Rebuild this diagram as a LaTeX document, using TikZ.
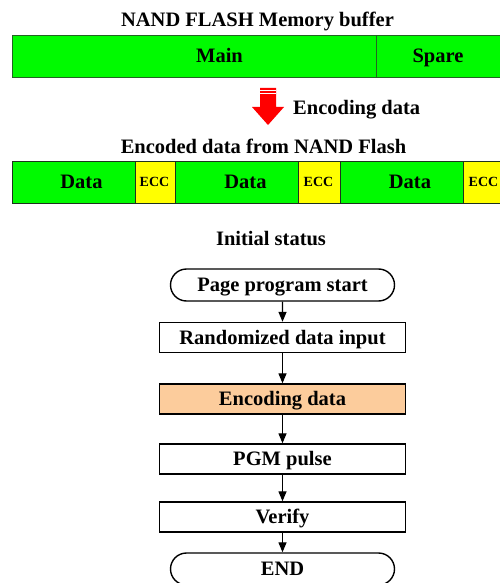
\documentclass[tikz,border=0pt]{standalone}
\usepackage{fontspec}
\setmainfont{Liberation Serif}
\usetikzlibrary{shapes.misc,arrows.meta}
\definecolor{bargreen}{RGB}{0,250,0}
\definecolor{bardark}{RGB}{35,100,35}
\definecolor{rowdark}{RGB}{30,50,30}
\definecolor{eccyellow}{RGB}{255,255,0}
\definecolor{peach}{RGB}{252,204,156}
\definecolor{arrowred}{RGB}{255,0,0}
\begin{document}
\begin{tikzpicture}[x=1pt,y=-1pt,
  lbl/.style={font=\fontsize{20.5}{24}\selectfont\bfseries, inner sep=0pt, anchor=base},
  ecclbl/.style={font=\fontsize{14}{16}\selectfont\bfseries, inner sep=0pt, anchor=base},
  topseg/.style={draw=bardark, line width=1.2pt, fill=bargreen, minimum height=42pt, inner sep=0pt, anchor=north west},
  dataseg/.style={draw=rowdark, line width=1.2pt, fill=bargreen, minimum height=42pt, inner sep=0pt, anchor=north west},
  eccseg/.style={draw=rowdark, line width=1.2pt, fill=eccyellow, minimum height=42pt, inner sep=0pt, anchor=north west},
  flowtxt/.style={font=\fontsize{20.5}{24}\selectfont\bfseries, text height=13.6pt, text depth=0pt, inner sep=0pt},
  procbox/.style={flowtxt, draw=black, line width=1.4pt, fill=white, rectangle, minimum width=246pt, minimum height=30pt},
  termbox/.style={flowtxt, draw=black, line width=1.4pt, fill=white, rounded rectangle, minimum width=224pt, minimum height=32pt},
  flow/.style={draw=black, line width=1.3pt, -{Triangle[length=10pt,width=8pt]}}
]
\useasboundingbox (0,0) rectangle (499,583);

% Title
\node[lbl] (title1) at (257.5,27) {NAND FLASH Memory buffer};

% Top bar
\node[topseg, minimum width=364pt] (main) at (12,35) {};
\node[topseg, minimum width=140pt] (spare) at (376,35) {};
\node[lbl] (tmain) at (219.5,62.3) {Main};
\node[lbl] (tspare) at (438,62.3) {Spare};

% Red encoding arrow
\fill[arrowred] (260,88) -- (276,88) -- (276,107) -- (284,107) -- (268,125) -- (252,107) -- (260,107) -- cycle;
\draw[white, line width=0.8pt] (260,90.5) -- (276,90.5);
\draw[white, line width=0.8pt] (260,93.5) -- (276,93.5);
\node[lbl, anchor=base west] (tenc) at (293,114) {Encoding data};

% Encoded row
\node[lbl] (title2) at (263.5,153) {Encoded data from NAND Flash};
\node[dataseg, minimum width=123pt] (d1) at (12,161) {};
\node[eccseg, minimum width=40pt] (e1) at (135,161) {};
\node[dataseg, minimum width=123pt] (d2) at (175,161) {};
\node[eccseg, minimum width=42pt] (e2) at (298,161) {};
\node[dataseg, minimum width=123pt] (d3) at (340,161) {};
\node[eccseg, minimum width=45pt] (e3) at (463,161) {};
\node[lbl] (td1) at (81.5,188.8) {Data};
\node[lbl] (td2) at (245.5,188.8) {Data};
\node[lbl] (td3) at (410,188.8) {Data};
\node[ecclbl] (te1) at (154.5,186.6) {ECC};
\node[ecclbl] (te2) at (318.5,186.6) {ECC};
\node[ecclbl] (te3) at (483.5,186.6) {ECC};

% Flowchart
\node[lbl] (title3) at (271,245) {Initial status};
\node[termbox] (start) at (282.5,285) {Page program start};
\node[procbox] (rand) at (282.5,337.5) {Randomized data input};
\node[procbox, fill=peach] (enc) at (282.5,399) {Encoding data};
\node[procbox] (pgm) at (282.5,459) {PGM pulse};
\node[procbox] (ver) at (282.5,517) {Verify};
\node[termbox] (end) at (282.5,569) {END};

\draw[flow] (start) -- (rand);
\draw[flow] (rand) -- (enc);
\draw[flow] (enc) -- (pgm);
\draw[flow] (pgm) -- (ver);
\draw[flow] (ver) -- (end);
\end{tikzpicture}
\end{document}
